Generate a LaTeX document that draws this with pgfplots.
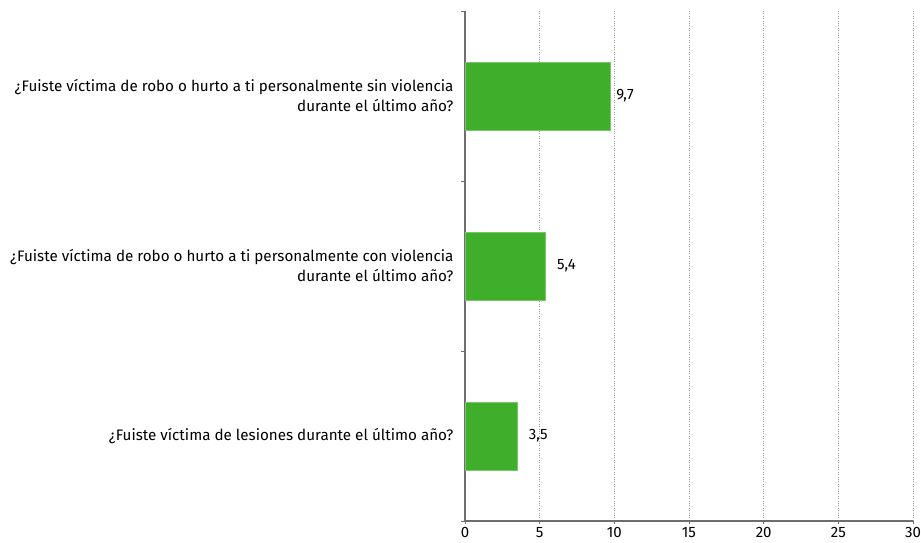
\documentclass[border=0pt]{standalone}
\usepackage{pgfplots}
\pgfplotsset{compat=1.18}
\usepackage{fontspec}
\setmainfont{Fira Sans}
\definecolor{barg}{RGB}{63,174,43}
\definecolor{axg}{RGB}{110,110,110}
\begin{document}
\begin{tikzpicture}
\begin{axis}[
  scale only axis,
  width=448pt, height=510pt,
  xbar, bar width=68pt, bar shift=0pt,
  xmin=0, xmax=30, ymin=-0.5, ymax=2.5,
  y dir=reverse,
  axis x line*=bottom, axis y line*=left,
  axis line style={axg, line width=1.6pt, -},
  xtick={0,5,...,30},
  ytick={0,1,2},
  yticklabels={{¿Fuiste víctima de robo o hurto a ti personalmente sin violencia\\durante el último año?},
               {¿Fuiste víctima de robo o hurto a ti personalmente con violencia\\durante el último año?},
               {¿Fuiste víctima de lesiones durante el último año?}},
  yticklabel style={align=right, font=\fontsize{15.2}{20}\selectfont, xshift=-5pt},
  xticklabel style={font=\fontsize{15}{16}\selectfont},
  /pgf/number format/assume math mode=true,
  y tick style={draw=none},
  x tick style={axg, line width=0.8pt},
  major tick length=3pt,
  tick align=outside,
  xmajorgrids,
  grid style={gray!80, dotted, line width=0.8pt},
  extra y ticks={-0.5,0.5,1.5,2.5},
  extra y tick labels={},
  extra y tick style={ytick style={draw=axg, line width=0.8pt}, major tick length=4pt, grid=none},
  nodes near coords={\pgfmathprintnumber[use comma,fixed,precision=1,fixed zerofill]{\pgfplotspointmeta}},
  every node near coord/.append style={font=\fontsize{15}{16}\selectfont, black},
  clip=false,
]
\addplot[fill=barg, draw=barg!70!white, every node near coord/.append style={xshift=3pt}] coordinates {(9.7,0)};
\addplot[fill=barg, draw=barg!70!white, every node near coord/.append style={xshift=8pt}] coordinates {(5.4,1)};
\addplot[fill=barg, draw=barg!70!white, every node near coord/.append style={xshift=8pt}] coordinates {(3.5,2)};
\coordinate (SW) at (axis description cs:0,0);
\coordinate (NE) at (axis description cs:1,1);
\end{axis}
\pgfresetboundingbox
\path[use as bounding box] ([xshift=-465pt,yshift=-22pt]SW) rectangle ([xshift=8pt,yshift=11pt]NE);
\end{tikzpicture}
\end{document}
